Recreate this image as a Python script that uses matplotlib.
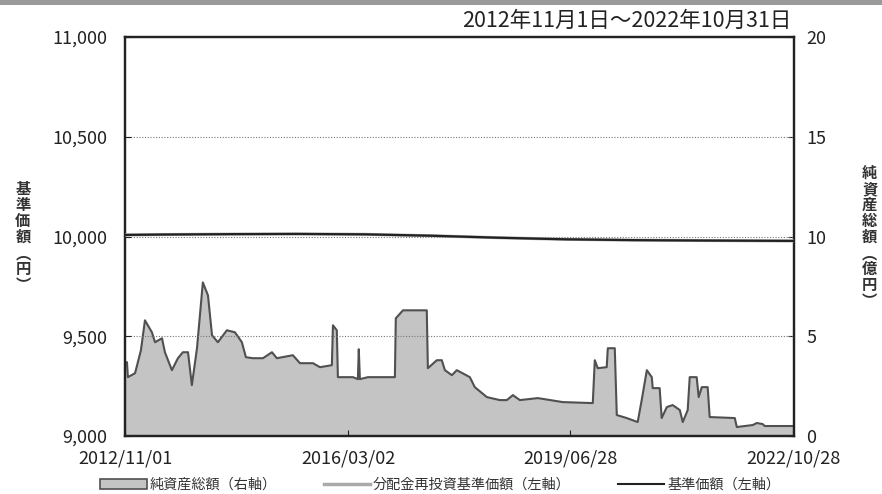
import numpy as np
import pandas as pd
import matplotlib
matplotlib.use('Agg')
import matplotlib.pyplot as plt
from matplotlib.patches import Patch, Rectangle
from matplotlib.lines import Line2D

plt.rcParams['font.family'] = ['Noto Sans CJK JP', 'DejaVu Sans']

# 純資産総額 (億円)
aum_dates = ['2012-11-01', '2012-11-12', '2012-11-17', '2012-12-26', '2013-01-27', '2013-02-18',
             '2013-03-28', '2013-04-14', '2013-05-22', '2013-06-07', '2013-07-15', '2013-08-17',
             '2013-09-13', '2013-10-11', '2013-11-01', '2013-11-29', '2013-12-31', '2014-01-28',
             '2014-02-19', '2014-03-23', '2014-05-11', '2014-06-24', '2014-08-01', '2014-08-23',
             '2014-09-30', '2014-11-24', '2015-01-12', '2015-02-08', '2015-05-06', '2015-06-14',
             '2015-08-24', '2015-10-01', '2015-12-05', '2015-12-11', '2016-01-01', '2016-01-07',
             '2016-03-29', '2016-04-25', '2016-04-30', '2016-05-06', '2016-06-19', '2016-11-13',
             '2016-11-18', '2016-12-27', '2017-05-06', '2017-05-12', '2017-06-30', '2017-07-27',
             '2017-08-13', '2017-09-20', '2017-10-17', '2017-12-27', '2018-01-23', '2018-03-30',
             '2018-06-09', '2018-07-17', '2018-08-19', '2018-09-26', '2019-01-02', '2019-05-18',
             '2019-10-29', '2019-11-09', '2019-11-25', '2020-01-13', '2020-01-19', '2020-02-26',
             '2020-03-08', '2020-05-01', '2020-06-30', '2020-07-22', '2020-08-19', '2020-09-15',
             '2020-09-20', '2020-10-28', '2020-11-08', '2020-12-06', '2021-01-07', '2021-02-15',
             '2021-03-03', '2021-03-30', '2021-04-10', '2021-05-18', '2021-05-29', '2021-06-15',
             '2021-07-17', '2021-07-28', '2021-12-12', '2021-12-23', '2022-03-20', '2022-04-11',
             '2022-05-13', '2022-05-24', '2022-10-31']
aum_values = [3.7, 3.7, 2.95, 3.15, 4.3, 5.8,
              5.2, 4.7, 4.9, 4.2, 3.3, 3.9,
              4.2, 4.2, 2.55, 4.4, 7.7, 7.05,
              5.05, 4.7, 5.3, 5.2, 4.7, 3.95,
              3.9, 3.9, 4.2, 3.9, 4.05, 3.65,
              3.65, 3.45, 3.55, 5.55, 5.3, 2.95,
              2.95, 2.85, 4.35, 2.85, 2.95, 2.95,
              5.9, 6.3, 6.3, 3.4, 3.8, 3.8,
              3.3, 3.05, 3.3, 2.95, 2.45, 1.95,
              1.8, 1.8, 2.05, 1.8, 1.9, 1.7,
              1.65, 3.8, 3.4, 3.45, 4.4, 4.4,
              1.05, 0.9, 0.7, 1.8, 3.3, 2.95,
              2.4, 2.4, 0.9, 1.45, 1.55, 1.3,
              0.7, 1.3, 2.95, 2.95, 1.95, 2.45,
              2.45, 0.95, 0.9, 0.45, 0.55, 0.65,
              0.6, 0.5, 0.5]

# 基準価額 (円)
nav_dates = ['2012-11-01', '2013-06-01', '2014-06-01', '2015-06-01', '2016-06-01', '2017-06-01',
             '2018-06-01', '2019-06-01', '2020-06-01', '2021-06-01', '2022-10-31']
nav_values = [10008, 10010, 10012, 10013, 10011, 10004, 9994, 9986, 9982, 9980, 9978]
# 分配金再投資基準価額 (円) - no distributions, same as NAV
reinv_values = list(nav_values)

tick_dates = ['2012-11-01', '2016-03-02', '2019-06-28', '2022-10-28']

aum_x = pd.to_datetime(aum_dates)
nav_x = pd.to_datetime(nav_dates)

fig = plt.figure(figsize=(8.82, 4.94), dpi=100)
fig.patch.set_facecolor('white')
fig.patches.append(Rectangle((0, 0.99), 1, 0.01, transform=fig.transFigure,
                             facecolor='#9a9a9a', edgecolor='none'))

ax = fig.add_axes([0.1417, 0.1174, 0.7585, 0.8076])
ax2 = ax.twinx()
ax.set_zorder(ax2.get_zorder() + 1)
ax.patch.set_visible(False)
ax2.patch.set_facecolor('#f7f7f7')

ax2.fill_between(aum_x, aum_values, 0, facecolor='#c4c4c4', edgecolor='none')
ax2.plot(aum_x, aum_values, color='#505050', lw=1.5)
ax2.set_ylim(0, 20)
ax2.set_yticks([0, 5, 10, 15, 20])

for v in [9500, 10000, 10500]:
    ax.axhline(v, color='#777777', lw=0.8, ls=(0, (1, 1.5)), zorder=1)
ax.plot(nav_x, reinv_values, color='#aaaaaa', lw=2.2, zorder=3)
ax.plot(nav_x, nav_values, color='#222222', lw=1.6, zorder=4)
ax.set_ylim(9000, 11000)
ax.set_yticks([9000, 9500, 10000, 10500, 11000])
ax.set_yticklabels(['9,000', '9,500', '10,000', '10,500', '11,000'])

ax.set_xlim(pd.Timestamp('2012-11-01'), pd.Timestamp('2022-10-31'))
ax.set_xticks(pd.to_datetime(tick_dates))
ax.set_xticklabels([d.replace('-', '/') for d in tick_dates])

for a in (ax, ax2):
    a.tick_params(direction='in', labelsize=13, length=4, color='#222222', labelcolor='#222222')
    for s in a.spines.values():
        s.set_linewidth(1.6)
        s.set_color('#222222')
ax.tick_params(axis='x', pad=10)
ax.tick_params(axis='y', pad=13)
ax2.tick_params(axis='y', pad=9)

fig.text(0.897, 0.957, '2012年11月1日～2022年10月31日', ha='right', va='center', fontsize=15.5,
         color='#222222')
fig.text(0.026, 0.52, '\n'.join('基準価額︵円︶'), ha='center', va='center', fontsize=11,
         linespacing=1.0, weight='bold', color='#333333')
fig.text(0.986, 0.52, '\n'.join('純資産総額︵億円︶'), ha='center', va='center', fontsize=11,
         linespacing=1.0, weight='bold', color='#333333')

handles = [Patch(facecolor='#c4c4c4', edgecolor='#505050', lw=1.2),
           Line2D([], [], color='#aaaaaa', lw=2.5),
           Line2D([], [], color='#222222', lw=1.5)]
labels = ['純資産総額（右軸）', '分配金再投資基準価額（左軸）', '基準価額（左軸）']
leg = fig.legend(handles, labels, loc='center', bbox_to_anchor=(0.499, 0.019), ncol=3,
                 frameon=False, columnspacing=3.3, handlelength=3.3, handletextpad=0.2,
                 prop={'size': 10.2})
for t in leg.get_texts():
    t.set_color('#333333')

fig.savefig('out.png', dpi=100)
